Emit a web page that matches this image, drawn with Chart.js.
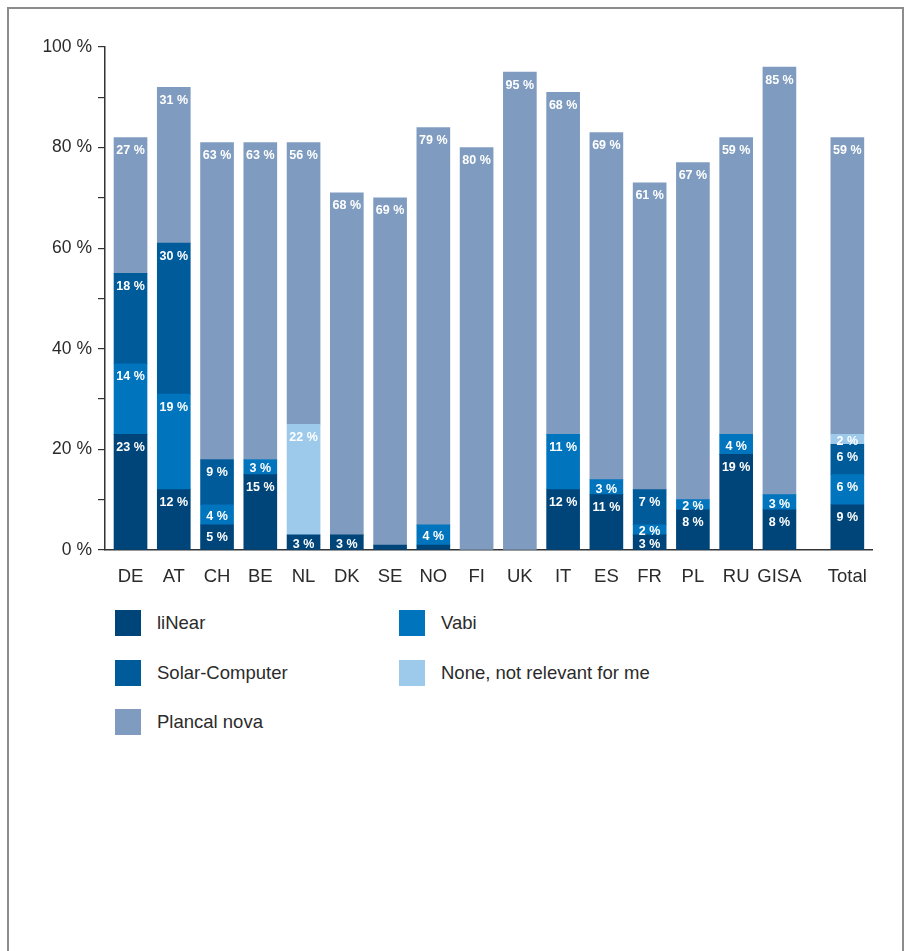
<!DOCTYPE html>
<html>
<head>
<meta charset="utf-8">
<script src="https://cdn.jsdelivr.net/npm/chart.js@4/dist/chart.umd.min.js"></script>
<style>
  html, body { margin: 0; padding: 0; background: #fff; }
  body { width: 906px; height: 951px; position: relative; overflow: hidden; font-family: "Liberation Sans", Arial, sans-serif; }
  #frame { position: absolute; left: 7px; top: 7px; width: 897px; height: 1000px; border: 2px solid #8c8c8c; box-sizing: border-box; }
  #wrap { position: absolute; left: 0; top: 0; width: 906px; height: 600px; }
  #legend { position: absolute; left: 0; top: 0; width: 906px; }
  .item { position: absolute; display: flex; align-items: center; height: 26px; font-size: 18.5px; color: #2b2b2b; }
  .sw { width: 26px; height: 26px; margin-right: 16px; }
</style>
</head>
<body>
<div id="frame"></div>
<div id="wrap"><canvas id="c" width="906" height="600"></canvas></div>
<div id="legend"></div>
<script>
// ---- data ----
const categories = ["DE","AT","CH","BE","NL","DK","SE","NO","FI","UK","IT","ES","FR","PL","RU","GISA","Total"];
const seriesNames = ["liNear","Vabi","Solar-Computer","None, not relevant for me","Plancal nova"];
const liNear        = [23, 12, 5, 15, 3, 3, 1, 1, null, null, 12, 11, 3, 8, 19, 8, 9];
const vabi          = [14, 19, 4, 3, null, null, null, 4, null, null, 11, 3, 2, 2, 4, 3, 6];
const solarComputer = [18, 30, 9, null, null, null, null, null, null, null, null, null, 7, null, null, null, 6];
const noneRelevant  = [null, null, null, null, 22, null, null, null, null, null, null, null, null, null, null, null, 2];
const plancalNova   = [27, 31, 63, 63, 56, 68, 69, 79, 80, 95, 68, 69, 61, 67, 59, 85, 59];
const yTickLabels   = ["0 %","20 %","40 %","60 %","80 %","100 %"];

// ---- styles / layout ----
const colors = ["#00457a", "#0075be", "#005b9b", "#9dcaeb", "#7f9cc0"];
const seriesValues = [liNear, vabi, solarComputer, noneRelevant, plancalNova];
const totalGap = 0.57; // extra space before "Total"
const xPos = categories.map((c, i) => (c === "Total" ? i + totalGap : i));

const datasets = seriesValues.map((vals, s) => ({
  label: seriesNames[s],
  data: vals.map((v, i) => ({ x: xPos[i], y: v })),
  backgroundColor: colors[s],
  borderWidth: 0,
  barThickness: 33
}));

const labelPlugin = {
  id: 'segLabels',
  afterDatasetsDraw(chart) {
    const ctx = chart.ctx;
    ctx.save();
    ctx.font = 'bold 12.5px "Liberation Sans", Arial, sans-serif';
    ctx.fillStyle = '#ffffff';
    ctx.textAlign = 'center';
    ctx.textBaseline = 'middle';
    chart.data.datasets.forEach((ds, di) => {
      const meta = chart.getDatasetMeta(di);
      meta.data.forEach((el, i) => {
        const v = ds.data[i].y;
        if (v == null || v < 2) return;
        const top = Math.min(el.y, el.base);
        const h = Math.abs(el.base - el.y);
        const cy = top + Math.min(13, h / 2 + 2);
        ctx.fillText(v + ' %', el.x, cy);
      });
    });
    ctx.restore();
  }
};

const yFont = { family: '"Liberation Sans", Arial, sans-serif', size: 17.5 };
const xFont = { family: '"Liberation Sans", Arial, sans-serif', size: 18.5 };

new Chart(document.getElementById('c'), {
  type: 'bar',
  data: { datasets },
  options: {
    responsive: false,
    animation: false,
    events: [],
    layout: { padding: { top: 47, right: 34, left: 0, bottom: 0 } },
    plugins: { legend: { display: false }, tooltip: { enabled: false } },
    scales: {
      x: {
        type: 'linear',
        offset: false,
        stacked: true,
        min: -0.59,
        max: 17.14,
        grid: { display: false },
        border: { display: true, color: '#333', width: 1.5 },
        afterBuildTicks: (scale) => { scale.ticks = xPos.map(v => ({ value: v })); },
        afterFit: (scale) => { scale.height = 50; },
        ticks: {
          autoSkip: false,
          maxRotation: 0,
          padding: 8,
          color: '#2b2b2b',
          font: xFont,
          callback: (v, i) => categories[i]
        }
      },
      y: {
        stacked: true,
        min: 0,
        max: 100,
        afterFit: (scale) => { scale.width = 105; },
        grid: { drawOnChartArea: false, drawTicks: true, tickLength: 7, color: '#333', lineWidth: 1.2 },
        border: { display: true, color: '#333', width: 1.5 },
        ticks: {
          stepSize: 10,
          padding: 6,
          color: '#2b2b2b',
          font: yFont,
          callback: (v) => (v % 20 === 0 ? yTickLabels[v / 20] : '')
        }
      }
    }
  },
  plugins: [labelPlugin]
});

// ---- HTML legend (two columns) ----
const legendLayout = [
  { s: 0, left: 115, top: 610 },
  { s: 1, left: 399, top: 610 },
  { s: 2, left: 115, top: 660 },
  { s: 3, left: 399, top: 660 },
  { s: 4, left: 115, top: 709 }
];
const lg = document.getElementById('legend');
legendLayout.forEach(p => {
  const d = document.createElement('div');
  d.className = 'item';
  d.style.left = p.left + 'px';
  d.style.top = p.top + 'px';
  const sw = document.createElement('span');
  sw.className = 'sw';
  sw.style.background = colors[p.s];
  const t = document.createElement('span');
  t.textContent = seriesNames[p.s];
  d.appendChild(sw); d.appendChild(t);
  lg.appendChild(d);
});
</script>
</body>
</html>
